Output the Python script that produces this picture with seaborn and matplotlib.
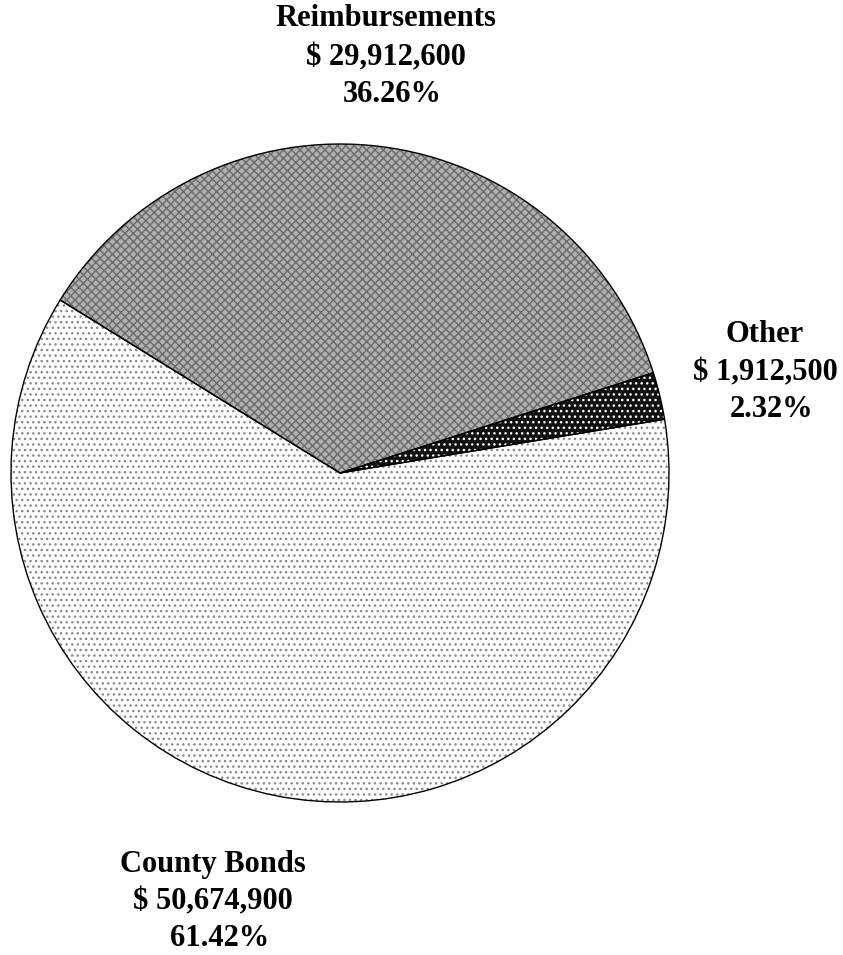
import matplotlib
matplotlib.use("Agg")
import matplotlib.pyplot as plt
import seaborn as sns

# data
categories = ["Other", "Reimbursements", "County Bonds"]
amounts = [1912500, 29912600, 50674900]
percents = ["2.32%", "36.26%", "61.42%"]

sns.set_theme(style="white")
plt.rcParams["font.family"] = ["Liberation Serif", "DejaVu Serif"]
plt.rcParams["hatch.linewidth"] = 1.0

face = ["#111111", "#b0b0b0", "#ffffff"]
hatch_col = ["#ffffff", "#6a6a6a", "#8a8a8a"]
hatches = ["...", "xxxx", "..."]

fig = plt.figure(figsize=(8.43, 9.55), dpi=100)
ax = fig.add_axes([11 / 843, 153 / 955, 658 / 843, 658 / 955])

start = 9.4
wedges, _ = ax.pie(amounts, startangle=start, counterclock=True,
                   colors=face, wedgeprops=dict(linewidth=0))
for w, h, hc in zip(wedges, hatches, hatch_col):
    w.set_hatch(h)
    w.set_edgecolor(hc)

# outlines
outl, _ = ax.pie(amounts, startangle=start, counterclock=True,
                 wedgeprops=dict(fill=False, edgecolor="black", linewidth=1.0))
ax.set_xlim(-1, 1)
ax.set_ylim(-1, 1)
ax.set_aspect("equal")
ax.axis("off")

# labels: (x center px, y center px) per line
label_pos = {
    "Reimbursements": [(386, 18), (386, 58), (392, 95)],
    "Other": [(765, 334), (765, 373), (772, 409)],
    "County Bonds": [(213, 864), (213, 902), (220, 938)],
}
for cat, amt, pct in zip(categories, amounts, percents):
    lines = [cat, "$ {:,}".format(amt), pct]
    for txt, (x, y) in zip(lines, label_pos[cat]):
        fig.text(x / 843, 1 - y / 955, txt, ha="center", va="center",
                 fontsize=22, fontweight="bold", color="black")

fig.savefig("out.png", dpi=100, facecolor="white")
